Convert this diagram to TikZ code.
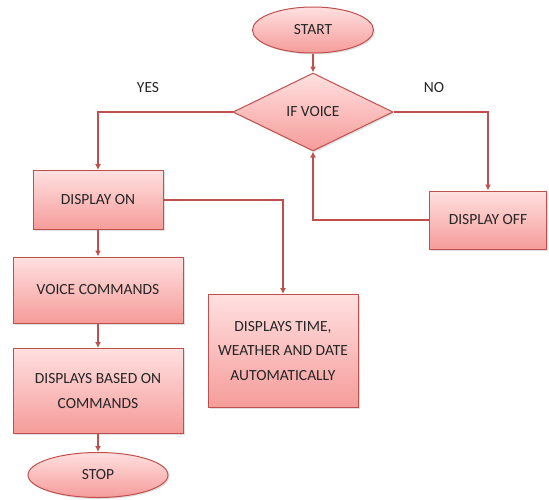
\documentclass[tikz,border=0pt]{standalone}
\usepackage{fontspec}
\setmainfont{Carlito}
\usetikzlibrary{shapes.geometric,arrows.meta,shadows}
\definecolor{boxline}{HTML}{C0504D}
\definecolor{boxtop}{HTML}{FFE0E0}
\definecolor{boxbot}{HTML}{F59C9A}

\begin{document}
\begin{tikzpicture}[x=1pt, y=-1pt, line width=1pt,
	every node/.style={font=\fontsize{15.5}{24.5}\selectfont, text=black!85, align=center},
	pinkfill/.style={draw=boxline, top color=boxtop, bottom color=boxbot,
		drop shadow={opacity=0.25, shadow xshift=1.5pt, shadow yshift=-1.5pt}},
	terminal/.style={pinkfill, ellipse, inner sep=0pt},
	procbox/.style={pinkfill, rectangle, inner sep=0pt},
	decision/.style={pinkfill, diamond, aspect=2.05, inner sep=0pt},
	flow/.style={draw=boxline, line width=1.8pt, -{Latex[length=6pt,width=6pt]}}]
	\useasboundingbox (0,0) rectangle (549,499);
	% terminals
	\node[terminal, minimum width=121pt, minimum height=46pt] (start) at (313,30) {START};
	\node[terminal, minimum width=140pt, minimum height=45pt] (stop) at (98,475) {STOP};
	% decision
	\node[decision, minimum width=160pt, minimum height=78pt] (ifvoice) at (313,112) {IF VOICE};
	% process boxes
	\node[procbox, minimum width=130pt, minimum height=59pt] (dispon) at (98,200) {DISPLAY ON};
	\node[procbox, minimum width=117pt, minimum height=58pt] (dispoff) at (488,220) {DISPLAY OFF};
	\node[procbox, minimum width=170pt, minimum height=66pt] (voicecmd) at (98,290) {VOICE COMMANDS};
	\node[procbox, minimum width=170pt, minimum height=85pt] (dispcmd) at (98,391) {DISPLAYS BASED ON\\COMMANDS};
	\node[procbox, minimum width=150pt, minimum height=113pt] (dispauto) at (283,351) {DISPLAYS TIME,\\WEATHER AND DATE\\AUTOMATICALLY};
	% labels
	\node (yes) at (148,88) {YES};
	\node (no) at (434,88) {NO};
	% connectors
	\draw[flow] (start) -- (ifvoice);
	\draw[flow] (ifvoice.west) -| (dispon.north);
	\draw[flow] (ifvoice.east) -| (dispoff.north);
	\draw[flow] (dispoff.west) -| (ifvoice.south);
	\draw[flow] (dispon.east) -| (dispauto.north);
	\draw[flow] (dispon) -- (voicecmd);
	\draw[flow] (voicecmd) -- (dispcmd);
	\draw[flow] (dispcmd) -- (stop);
\end{tikzpicture}
\end{document}
